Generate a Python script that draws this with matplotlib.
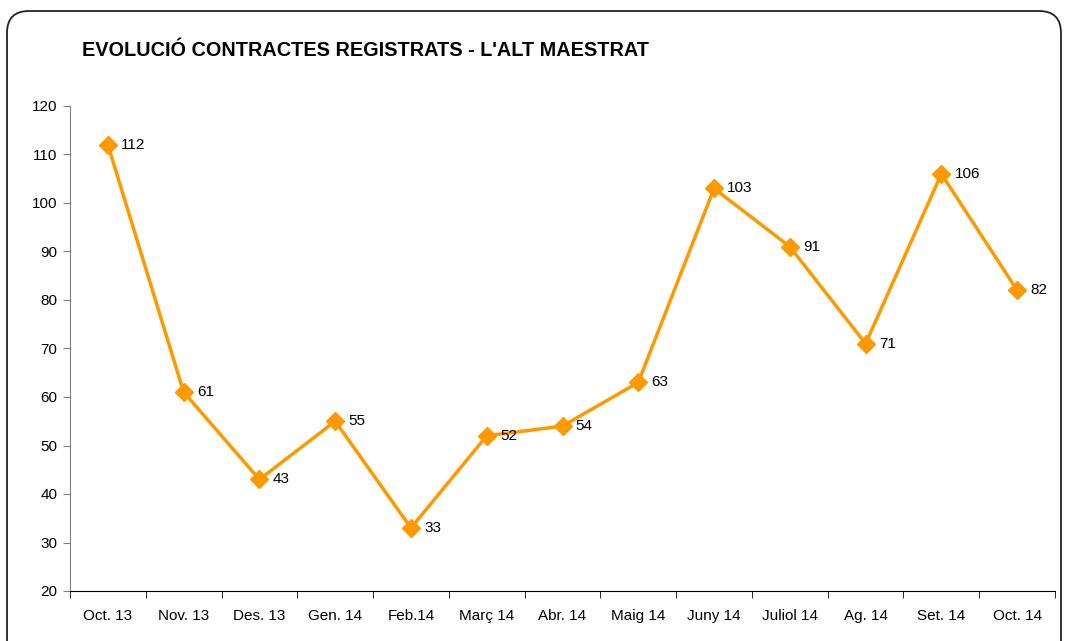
import matplotlib.pyplot as plt
from matplotlib.patches import FancyBboxPatch
from matplotlib.transforms import IdentityTransform

# Chart data
months = ['Oct. 13', 'Nov. 13', 'Des. 13', 'Gen. 14', 'Feb.14', 'Març 14', 'Abr. 14',
          'Maig 14', 'Juny 14', 'Juliol 14', 'Ag. 14', 'Set. 14', 'Oct. 14']
contracts = [112, 61, 43, 55, 33, 52, 54, 63, 103, 91, 71, 106, 82]
title = "EVOLUCIÓ CONTRACTES REGISTRATS - L'ALT MAESTRAT"

plt.rcParams['font.family'] = ['Liberation Sans', 'DejaVu Sans']

fig = plt.figure(figsize=(10.67, 6.41), dpi=100)
ax = fig.add_axes([70 / 1067, 1 - 591 / 641, 985 / 1067, 485 / 641])

x = list(range(len(months)))
orange = '#FF9900'
ax.plot(x, contracts, color=orange, linewidth=2.5, marker='D', markersize=9.5,
        markeredgecolor=orange, markerfacecolor=orange, zorder=3)

for xi, v in zip(x, contracts):
    ax.annotate(str(v), (xi, v), xytext=(9.5, 0), textcoords='offset points',
                ha='left', va='center', fontsize=11)

ax.set_xlim(-0.5, len(months) - 0.5)
ax.set_ylim(20, 120)
ax.set_yticks(range(20, 121, 10))
ax.set_xticks(x)
ax.set_xticklabels(months)
ax.set_xticks([i - 0.5 for i in range(len(months) + 1)], minor=True)
ax.tick_params(axis='x', which='major', length=0, pad=13, labelsize=11)
ax.tick_params(axis='x', which='minor', length=5, direction='out', color='black')
ax.tick_params(axis='y', length=5, direction='out', color='#808080', labelsize=11, pad=4)

for side in ['top', 'right']:
    ax.spines[side].set_visible(False)
ax.spines['left'].set_color('#808080')
ax.spines['bottom'].set_color('black')

fig.text(82 / 1067, 1 - 51 / 641, title, fontsize=14.3, fontweight='bold',
         ha='left', va='center')

# rounded outer border
border = FancyBboxPatch((7, -40), 1054, 670, boxstyle='round,pad=0,rounding_size=22',
                        transform=IdentityTransform(), facecolor='none',
                        edgecolor='#222222', linewidth=1.3)
fig.add_artist(border)

fig.savefig('out.png', dpi=100)
